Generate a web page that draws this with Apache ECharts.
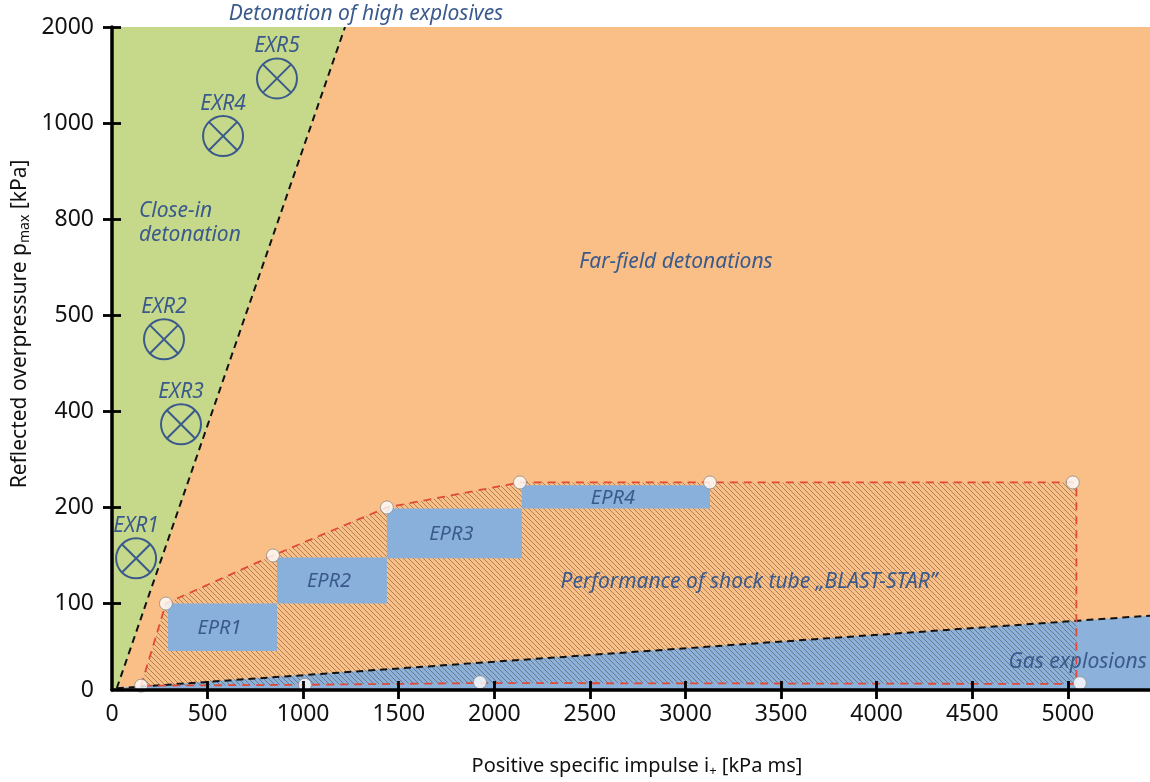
<!DOCTYPE html>
<html><head><meta charset="utf-8">
<script src="https://cdn.jsdelivr.net/npm/echarts@6/dist/echarts.min.js"></script>
<style>html,body{margin:0;padding:0;background:#fff}#c{width:1150px;height:782px}</style>
</head><body><div id="c"></div>
<script>
// ---- axes ----
const xTicks = [0,500,1000,1500,2000,2500,3000,3500,4000,4500,5000];
const xMax = 5430;
const yTicks = [0,100,200,400,500,800,1000,2000];
const yTickPos = [0,0.9,1.9,2.9,3.9,4.9,5.9,6.9]; // non-linear (piecewise) pressure scale

// ---- regions (impulse kPa ms, pressure kPa) ----
const closeInRegion = [[0,0],[25,0],[1219,2000],[0,2000]];
const gasRegion = [[0,0],[0,2],[5430,86],[5430,0]];
const closeInBoundary = [[25,2],[1219,2000]];
const gasBoundary = [[25,2],[5430,86]];

// ---- BLAST-STAR performance ----
const blastOutline = [[152,5],[282,100],[842,150],[1438,200],[2134,252],[5026,252],[5045,242],[5045,7],[1925,8],[1009,6],[152,5]];
const blastPoints = [[152,5],[282,100],[842,150],[1438,200],[2134,252],[3128,252],[5026,252],[5063,8],[1925,9],[1009,6]];

// ---- EPR ranges ----
const eprNames = ['EPR1','EPR2','EPR3','EPR4'];
const eprX0 = [293,863,1438,2144];
const eprX1 = [863,1438,2144,3128];
const eprY0 = [45,100,147,199];
const eprY1 = [100,148,199,246];

// ---- EXR points ----
const exrNames = ['EXR1','EXR2','EXR3','EXR4','EXR5'];
const exrX = [126,272,361,581,863];
const exrY = [147,475,373,973,1464];

// ---- region labels ----
const labelTexts = ['Far-field detonations','Performance of shock tube \u201EBLAST-STAR\u201D','Gas explosions','Close-in','detonation'];
const labelX = [2950,3332,5413,141,141];
const labelY = [666,122,32,817,750];
const labelAlign = ['center','center','right','left','left'];

function ty(p){
  for(let i=1;i<yTicks.length;i++){
    if(p<=yTicks[i]){
      const t=(p-yTicks[i-1])/(yTicks[i]-yTicks[i-1]);
      return yTickPos[i-1]+t*(yTickPos[i]-yTickPos[i-1]);
    }
  }
  return yTickPos[yTickPos.length-1];
}

const FONT = '"Noto Sans", "Open Sans", sans-serif';
const TXT = '#3b5a8c';

const hc = document.createElement('canvas'); hc.width=5; hc.height=5;
const hx = hc.getContext('2d'); hx.fillStyle='rgba(60,45,30,0.42)';
for(let i=0;i<5;i++) hx.fillRect(i,i,1,1);

function shapeSeries(pts, type, style, z){
  return {type:'custom', coordinateSystem:'cartesian2d', clip:true, silent:true, z:z,
    data:[[pts[0][0], ty(pts[0][1])]],
    renderItem:(params, api)=>({type:type, shape:{points: pts.map(d=>api.coord([d[0], ty(d[1])]))}, style:style})
  };
}

const chart = echarts.init(document.getElementById('c'));
const axisCommonX = {type:'value', min:0, max:xMax, position:'bottom', splitLine:{show:false}, z:20};
const axisCommonY = {type:'value', min:0, max:yTickPos[yTickPos.length-1], position:'left', splitLine:{show:false}, z:20};
const tickLine = {color:'#000', width:2.8};

chart.setOption({
  animation:false,
  grid:{left:112, right:0, top:27, bottom:92, show:true, backgroundColor:'#f9bf86', borderWidth:0, containLabel:false},
  xAxis:[
    Object.assign({}, axisCommonX, {
      axisLine:{show:true, onZero:false, lineStyle:{color:'#000', width:3.5}},
      axisTick:{show:true, length:9, customValues:xTicks.slice(1), lineStyle:tickLine},
      axisLabel:{show:true, customValues:xTicks, fontSize:23, color:'#111', margin:13, fontFamily:FONT, formatter:(v)=>String(v)}
    }),
    Object.assign({}, axisCommonX, {
      axisLine:{show:false},
      axisTick:{show:true, inside:true, length:9, customValues:xTicks.slice(1), lineStyle:tickLine},
      axisLabel:{show:false}
    })
  ],
  yAxis:[
    Object.assign({}, axisCommonY, {
      axisLine:{show:true, onZero:false, lineStyle:{color:'#000', width:3.5}},
      axisTick:{show:true, length:9, customValues:yTickPos.slice(1), lineStyle:tickLine},
      axisLabel:{show:true, customValues:yTickPos, fontSize:23, color:'#111', margin:18, fontFamily:FONT,
        formatter:(v)=>{const i=yTickPos.findIndex(p=>Math.abs(p-v)<1e-6); return i>=0?String(yTicks[i]):'';}}
    }),
    Object.assign({}, axisCommonY, {
      axisLine:{show:false},
      axisTick:{show:true, inside:true, length:9, customValues:yTickPos.slice(1), lineStyle:tickLine},
      axisLabel:{show:false}
    })
  ],
  graphic:[
    {type:'text', x:366, y:14, z:10, style:{text:'Detonation of high explosives', fill:TXT, font:'italic 21px '+FONT, align:'center', verticalAlign:'middle'}},
    {type:'text', x:637, y:766, z:10, style:{text:'{a|Positive specific impulse i}{b|+}{a| [kPa ms]}', align:'center', verticalAlign:'middle',
      rich:{a:{fontSize:20, fontFamily:FONT, fill:'#111', lineHeight:24}, b:{fontSize:13, fontFamily:FONT, fill:'#111', lineHeight:16, verticalAlign:'bottom'}}}},
    {type:'text', x:20, y:324, rotation:Math.PI/2, z:10, style:{text:'{a|Reflected overpressure p}{b|max}{a| [kPa]}', align:'center', verticalAlign:'middle',
      rich:{a:{fontSize:21, fontFamily:FONT, fill:'#111', lineHeight:24}, b:{fontSize:14, fontFamily:FONT, fill:'#111', lineHeight:16, verticalAlign:'bottom'}}}}
  ],
  series:[
    shapeSeries(closeInRegion,'polygon',{fill:'#c6d98b'},1),
    shapeSeries(gasRegion,'polygon',{fill:'#8cb1da'},1),
    shapeSeries(blastOutline,'polygon',{fill:{image:hc, repeat:'repeat'}},2),
    shapeSeries(closeInBoundary,'polyline',{stroke:'#111', lineWidth:2, lineDash:[7,5], fill:null},3),
    shapeSeries(gasBoundary,'polyline',{stroke:'#111', lineWidth:2, lineDash:[7,5], fill:null},3),
    shapeSeries(blastOutline,'polyline',{stroke:'#e24a38', lineWidth:1.8, lineDash:[8,6], fill:null},4),
    {type:'custom', coordinateSystem:'cartesian2d', silent:true, z:5,
      data: eprNames.map((n,i)=>[eprX0[i], ty(eprY0[i]), eprX1[i], ty(eprY1[i])]),
      encode:{x:[0,2], y:[1,3]},
      renderItem:(params, api)=>{
        const p0=api.coord([api.value(0), api.value(3)]);
        const p1=api.coord([api.value(2), api.value(1)]);
        return {type:'group', children:[
          {type:'rect', shape:{x:p0[0], y:p0[1], width:p1[0]-p0[0], height:p1[1]-p0[1]}, style:{fill:'#89afdb'}},
          {type:'text', x:(p0[0]+p1[0])/2-3, y:(p0[1]+p1[1])/2+1, style:{text:eprNames[params.dataIndex], fill:TXT, font:'italic 20px '+FONT, align:'center', verticalAlign:'middle'}}
        ]};
      }
    },
    {type:'scatter', xAxisIndex:0, yAxisIndex:0, z:6, silent:true, symbol:'circle', symbolSize:13,
      data: blastPoints.map(p=>[p[0], ty(p[1])]),
      itemStyle:{color:'#fff', borderColor:'#8c8c8c', borderWidth:1}},
    {type:'custom', coordinateSystem:'cartesian2d', silent:true, z:7,
      data: exrNames.map((n,i)=>[exrX[i], ty(exrY[i])]),
      renderItem:(params, api)=>{
        const c=api.coord([api.value(0), api.value(1)]);
        const r=20, d=r*Math.SQRT1_2;
        const st={stroke:TXT, lineWidth:2, fill:null};
        return {type:'group', children:[
          {type:'circle', shape:{cx:c[0], cy:c[1], r:r}, style:st},
          {type:'line', shape:{x1:c[0]-d, y1:c[1]-d, x2:c[0]+d, y2:c[1]+d}, style:st},
          {type:'line', shape:{x1:c[0]-d, y1:c[1]+d, x2:c[0]+d, y2:c[1]-d}, style:st},
          {type:'text', x:c[0], y:c[1]-32, style:{text:exrNames[params.dataIndex], fill:TXT, font:'italic 21px '+FONT, align:'center', verticalAlign:'middle'}}
        ]};
      }
    },
    {type:'custom', coordinateSystem:'cartesian2d', silent:true, z:8,
      data: labelTexts.map((t,i)=>[labelX[i], ty(labelY[i])]),
      renderItem:(params, api)=>{
        const c=api.coord([api.value(0), api.value(1)]);
        return {type:'text', x:c[0], y:c[1], style:{text:labelTexts[params.dataIndex], fill:TXT, font:'italic 21px '+FONT, align:labelAlign[params.dataIndex], verticalAlign:'middle'}};
      }
    }
  ]
});
</script></body></html>
